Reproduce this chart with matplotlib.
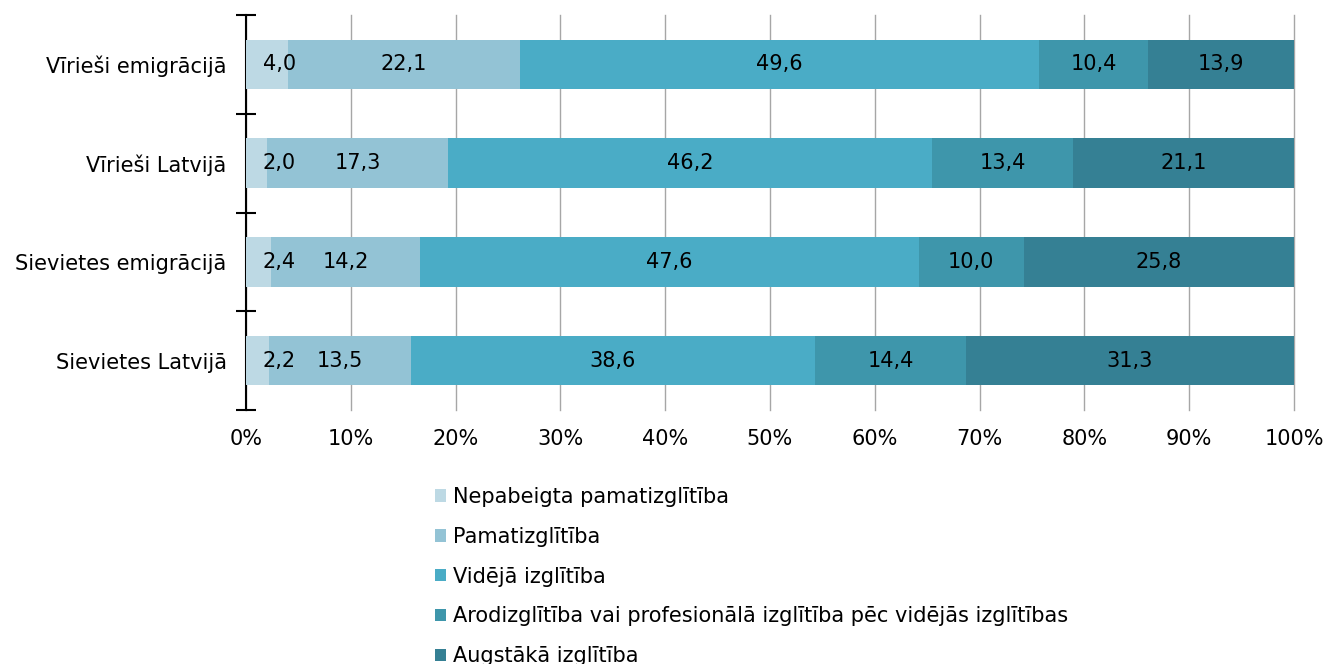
import matplotlib
matplotlib.use("Agg")
import matplotlib.pyplot as plt
import numpy as np
from matplotlib.ticker import FixedLocator, PercentFormatter

categories = ["Vīrieši emigrācijā", "Vīrieši Latvijā", "Sievietes emigrācijā", "Sievietes Latvijā"]
series_names = ["Nepabeigta pamatizglītība", "Pamatizglītība", "Vidējā izglītība",
                "Arodizglītība vai profesionālā izglītība pēc vidējās izglītības",
                "Augstākā izglītība"]
nepabeigta = [4.0, 2.0, 2.4, 2.2]
pamat = [22.1, 17.3, 14.2, 13.5]
videja = [49.6, 46.2, 47.6, 38.6]
arod = [10.4, 13.4, 10.0, 14.4]
augstaka = [13.9, 21.1, 25.8, 31.3]
colors = ["#BDD9E4", "#93C3D5", "#4AACC6", "#3E96AB", "#358094"]

FS = 15
plt.rcParams['font.family'] = ['DejaVu Sans']
fig = plt.figure(figsize=(13.28, 6.64), dpi=100)
ax = fig.add_axes([246/1328, 1-410/664, (1294-246)/1328, (410-15)/664])

data = [nepabeigta, pamat, videja, arod, augstaka]
y = np.arange(len(categories))
left = np.zeros(len(categories))
handles = []
for si, (vals, c, name) in enumerate(zip(data, colors, series_names)):
    vals = np.array(vals)
    b = ax.barh(y, vals, left=left, height=0.5, color=c, label=name, zorder=3)
    handles.append(b)
    for yi, l, v in zip(y, left, vals):
        txt = f"{v:.1f}".replace('.', ',')
        if si == 0:
            ax.text(l + 1.6, yi, txt, ha='left', va='center',
                    fontsize=FS, color='black', zorder=4)
        else:
            ax.text(l + v/2, yi, txt, ha='center', va='center',
                    fontsize=FS, color='black', zorder=4)
    left = left + vals

ax.set_xlim(0, 100)
ax.set_ylim(3.5, -0.5)
ax.set_yticks(y)
ax.set_yticklabels(categories, fontsize=FS)
ax.tick_params(axis='y', which='major', length=0, pad=14)
ax.yaxis.set_minor_locator(FixedLocator(np.arange(-0.5, 4, 1)))
ax.tick_params(axis='y', which='minor', length=14, direction='inout', width=1.5, color='black')
ax.set_xticks(np.arange(0, 101, 10))
ax.xaxis.set_major_formatter(PercentFormatter(decimals=0))
ax.tick_params(axis='x', length=0, labelsize=FS, pad=14)
ax.grid(axis='x', color='#A6A6A6', linewidth=1, zorder=0)
for gl in ax.get_xgridlines():
    gl.set_clip_on(False)
for s in ['top', 'right', 'bottom']:
    ax.spines[s].set_visible(False)
ax.spines['left'].set_linewidth(1.5)
ax.spines['left'].set_color('black')

fig.legend(handles=handles, loc='upper left', bbox_to_anchor=(435/1328, 1-487/664),
           frameon=False, fontsize=FS, handlelength=0.55, handleheight=0.55,
           handletextpad=0.33, labelspacing=0.95, borderaxespad=0, borderpad=0)

fig.savefig("out.png", dpi=100)
